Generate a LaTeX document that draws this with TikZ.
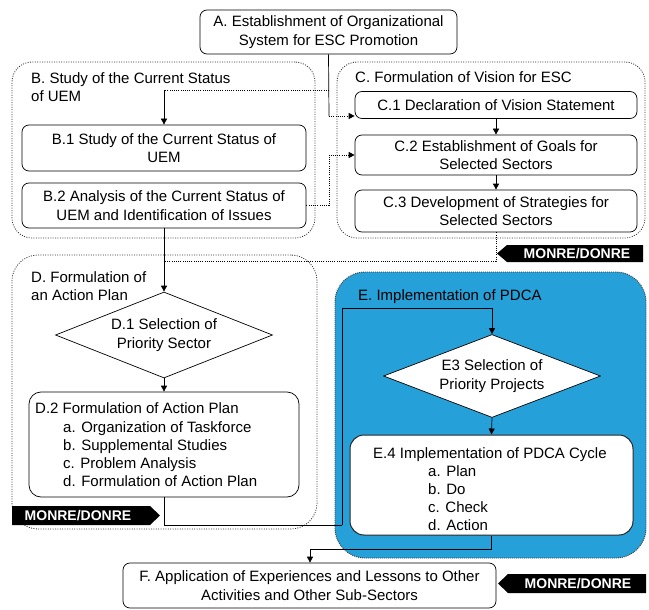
\documentclass[tikz,border=0pt]{standalone}
\usepackage{fontspec}
\setmainfont{Liberation Sans}
\usetikzlibrary{arrows.meta,shapes.geometric,calc}
\definecolor{pdcablue}{RGB}{38,160,216}
\begin{document}
\begin{tikzpicture}[x=1pt,y=-1pt,
  every node/.style={inner sep=0pt},
  txt/.style={font=\fontsize{15}{18.5}\selectfont, align=center},
  box/.style={txt, draw=black, line width=0.7pt, rounded corners=7pt, fill=white},
  group/.style={draw=black!80, line width=0.8pt, dash pattern=on 1pt off 1.4pt, rounded corners=20pt},
  decision/.style={txt, diamond, draw=black, line width=0.7pt, fill=white, aspect=2.52},
  conn/.style={line width=0.7pt},
  dotline/.style={line width=0.9pt, dash pattern=on 1pt off 1.2pt},
  tip/.style={-{Triangle[length=6pt,width=6pt]}},
  tagtxt/.style={font=\fontsize{14}{16}\selectfont\bfseries, text=white},
]
\useasboundingbox (0,0) rectangle (649,610);

% ---- group frames ----
\node[group, minimum width=303pt, minimum height=176pt] (gb) at (163.5,150) {};
\node[group, minimum width=308pt, minimum height=176pt] (gc) at (491,150) {};
\node[group, minimum width=305pt, minimum height=274pt, rounded corners=26pt] (gd) at (164.5,392) {};
\node[draw=black!75, line width=0.9pt, dash pattern=on 1pt off 1pt, fill=pdcablue,
      rounded corners=30pt, minimum width=311pt, minimum height=286pt] (ge) at (490.5,415) {};

% ---- group titles ----
\node[txt, anchor=west, align=left] (tb) at (31,87) {B. Study of the Current Status\\of UEM};
\node[txt, anchor=west] (tc) at (355,77) {C. Formulation of Vision for ESC};
\node[txt, anchor=west, align=left] (td) at (31,286) {D. Formulation of\\an Action Plan};
\node[txt, anchor=west] (te) at (358,297) {E. Implementation of PDCA};

% ---- steps ----
\node[box, minimum width=257pt, minimum height=44pt] (a) at (328.5,32)
  {A. Establishment of Organizational\\System for ESC Promotion};
\node[box, minimum width=284pt, minimum height=46pt] (b1) at (164,148)
  {B.1 Study of the Current Status of\\UEM};
\node[box, minimum width=284pt, minimum height=45pt] (b2) at (164,205.5)
  {B.2 Analysis of the Current Status of\\UEM and Identification of Issues};
\node[box, minimum width=282pt, minimum height=27pt] (c1) at (496,105)
  {C.1 Declaration of Vision Statement};
\node[box, minimum width=282pt, minimum height=40pt] (c2) at (496,155)
  {C.2 Establishment of Goals for\\Selected Sectors};
\node[box, minimum width=282pt, minimum height=42pt] (c3) at (496,211)
  {C.3 Development of Strategies for\\Selected Sectors};
\node[decision, minimum width=217pt, minimum height=86pt] (d1) at (164,335)
  {D.1 Selection of\\Priority Sector};
\node[box, rounded corners=12pt, minimum width=270pt, minimum height=105pt] (d2) at (164,444.5) {};
\node[txt, anchor=west, align=left, font=\fontsize{15}{18.25}\selectfont] (d2t) at (35,445)
  {D.2 Formulation of Action Plan\\
   \hspace*{28pt}a. Organization of Taskforce\\
   \hspace*{28pt}b. Supplemental Studies\\
   \hspace*{28pt}c. Problem Analysis\\
   \hspace*{28pt}d. Formulation of Action Plan};
\node[decision, minimum width=217pt, minimum height=83pt] (e3) at (492,376)
  {E3 Selection of\\Priority Projects};
\node[box, draw=black!85, line width=1pt, rounded corners=14pt, minimum width=283pt, minimum height=100pt] (e4) at (491.5,485) {};
\node[txt, anchor=west, align=left, font=\fontsize{15}{18}\selectfont] (e4t) at (373,489)
  {E.4 Implementation of PDCA Cycle\\
   \hspace*{55pt}a. Plan\\
   \hspace*{55pt}b. Do\\
   \hspace*{55pt}c. Check\\
   \hspace*{55pt}d. Action};
\node[box, minimum width=373pt, minimum height=45pt] (f) at (309.5,585.5)
  {F. Application of Experiences and Lessons to Other\\Activities and Other Sub-Sectors};

% ---- MONRE/DONRE tags ----
\fill[black] (507,245) -- (643,245) -- (643,262) -- (507,262) -- (497,253.5) -- cycle;
\node[tagtxt] (m1) at (577,253.5) {MONRE/DONRE};
\fill[black] (12,506) -- (150,506) -- (160,515.5) -- (150,525) -- (12,525) -- cycle;
\node[tagtxt] (m2) at (78,515.5) {MONRE/DONRE};
\fill[black] (508,574) -- (646,574) -- (646,593) -- (508,593) -- (498,583.5) -- cycle;
\node[tagtxt] (m3) at (578,583.5) {MONRE/DONRE};

% ---- connectors ----
\coordinate (ja) at (329,116);
\coordinate (jb) at (329,90);
\coordinate (jc) at (329,155);
\coordinate (jd) at (496,261);
\coordinate (je) at (342,525);
\coordinate (jf) at (342,308);
\coordinate (jg) at (310,549);

\draw[conn] (a.south) -- (ja);
\draw[dotline, tip] (ja) -- (ja -| c1.west);
\draw[dotline] (jb) -- (jb -| b1.north);
\draw[conn, tip] (jb -| b1.north) -- (b1.north);
\draw[dotline, tip] (b2.east) -| (jc) -- (c2.west);
\draw[conn, tip] (c1.south) -- (c2.north);
\draw[conn, tip] (c2.south) -- (c3.north);
\draw[dotline] (c3.south) -- (jd) -- (jd -| b2.south);
\draw[conn, tip] (b2.south) -- (d1.north);
\draw[conn, tip] (d1.south) -- (d2.north);
\draw[conn] (d2.south) |- (je);
\draw[conn, tip] (je) -- (jf) -| (e3.north);
\draw[conn, tip] (e3.south) -- (e4.north);
\draw[conn, tip] (e4.south) |- (jg) -- (jg |- f.north);
\end{tikzpicture}
\end{document}
